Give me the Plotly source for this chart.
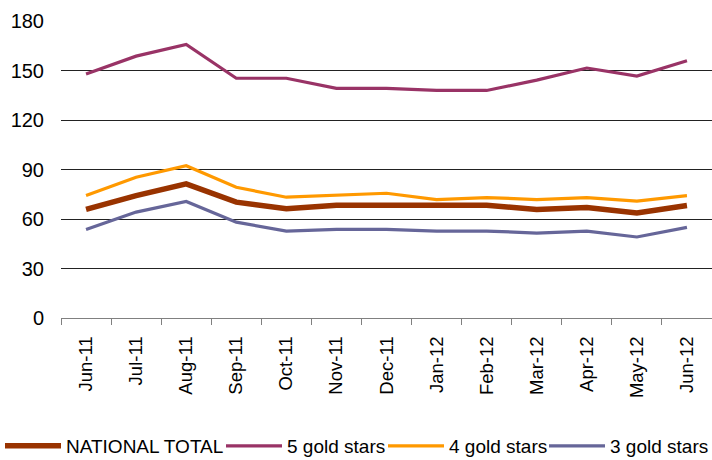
import plotly.graph_objects as go

months = ["Jun-11", "Jul-11", "Aug-11", "Sep-11", "Oct-11", "Nov-11", "Dec-11",
          "Jan-12", "Feb-12", "Mar-12", "Apr-12", "May-12", "Jun-12"]

national_total = [65.8, 74.2, 81.3, 70.2, 66.2, 68.4, 68.4, 68.4, 68.4, 65.8, 67.0, 63.6, 68.2]
gold5 = [147.9, 158.7, 165.8, 145.3, 145.3, 139.2, 139.2, 137.9, 137.9, 144.2, 151.5, 146.6, 155.9]
gold4 = [74.2, 85.3, 92.3, 79.2, 73.2, 74.6, 75.6, 71.8, 73.0, 71.8, 73.0, 70.8, 74.2]
gold3 = [53.7, 64.2, 70.6, 58.1, 52.7, 53.7, 53.7, 52.7, 52.7, 51.5, 52.7, 49.1, 54.9]

y_ticks = [0, 30, 60, 90, 120, 150, 180]

series_names = ["NATIONAL TOTAL", "5 gold stars", "4 gold stars", "3 gold stars"]
series_values = [national_total, gold5, gold4, gold3]
series_colors = ["#993300", "#993366", "#FF9900", "#666699"]
series_widths = [5.5, 3.2, 3.2, 3.2]

W, H = 712, 460
ITEM_W = 56
legend_text_x = [65, 291, 453, 614]   # desired text start (px)
TEXT_OFFSET = ITEM_W + 14

font_family = "Liberation Sans, Arial, sans-serif"

fig = go.Figure()
legend_ids = ["legend", "legend2", "legend3", "legend4"]
for i, (name, vals, color, width) in enumerate(zip(series_names, series_values,
                                                   series_colors, series_widths)):
    fig.add_trace(go.Scatter(x=months, y=vals, mode="lines", name=name,
                             legend=legend_ids[i],
                             line=dict(color=color, width=width)))

layout_legends = {}
for i, lid in enumerate(legend_ids):
    layout_legends[lid] = dict(
        orientation="h", xref="container", yref="container",
        x=(legend_text_x[i] - TEXT_OFFSET) / W, xanchor="left",
        y=(H - 446) / H, yanchor="middle",
        font=dict(size=19, family=font_family, color="black"),
        itemwidth=ITEM_W, bgcolor="rgba(0,0,0,0)", borderwidth=0,
    )

fig.update_layout(
    width=W, height=H,
    margin=dict(l=61, r=0, t=21, b=H - 318),
    paper_bgcolor="white", plot_bgcolor="white",
    font=dict(family=font_family, color="black"),
    showlegend=True,
    **layout_legends,
)
fig.update_xaxes(
    type="category", tickangle=-90, tickson="boundaries",
    ticks="outside", ticklen=6, tickcolor="#808080",
    showline=True, linecolor="#808080", linewidth=1,
    showgrid=False, tickfont=dict(size=18.5), ticklabelstandoff=10,
    range=[-0.5, 12.5],
)
fig.update_yaxes(
    range=[0, 180], tickvals=y_ticks, showgrid=True, gridcolor="#222222",
    gridwidth=1, zeroline=False, showline=False, ticks="",
    tickfont=dict(size=20), ticklabelstandoff=16,
)

fig.write_html("out.html",
               config={"displayModeBar": False},
               post_script="document.body.style.margin='0';"
                           "document.body.style.overflow='hidden';")
